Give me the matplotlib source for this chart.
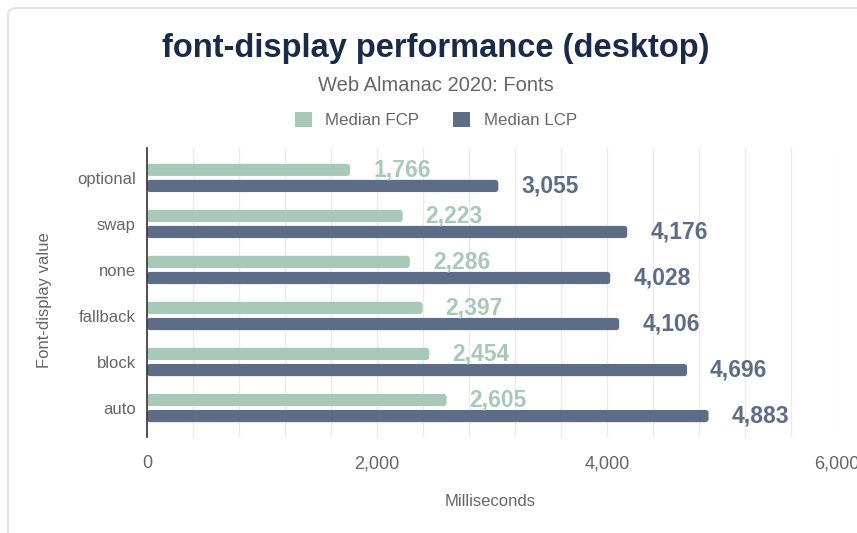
import matplotlib
matplotlib.use("Agg")
import matplotlib.pyplot as plt
from matplotlib.patches import FancyBboxPatch, Patch
import numpy as np

categories = ["optional", "swap", "none", "fallback", "block", "auto"]
fcp = [1766, 2223, 2286, 2397, 2454, 2605]
lcp = [3055, 4176, 4028, 4106, 4696, 4883]
xticks = [0, 2000, 4000, 6000]

FCP_C = "#a8c9b8"
LCP_C = "#5d6d87"
TITLE_C = "#1a2b49"
GRAY = "#666666"

plt.rcParams['font.family'] = ['Liberation Sans', 'DejaVu Sans']

W, H = 857, 533
fig = plt.figure(figsize=(W/100, H/100), dpi=100)

# card border
card = FancyBboxPatch((8/W, -0.05), 1.2, 1 - 8/H + 0.05, transform=fig.transFigure,
                      boxstyle="round,pad=0,rounding_size=0.012", fc="white", ec="#e4e4e4",
                      lw=1.5, zorder=-10)
fig.patches.append(card)

left, right = 147/W, 837/W
top, bottom = 1 - 148/H, 1 - 437/H
ax = fig.add_axes([left, bottom, right - left, top - bottom])

y = np.arange(len(categories))
bh = 0.265
off = 0.175
b1 = ax.barh(y - off, fcp, height=bh, color=FCP_C, zorder=3)
b2 = ax.barh(y + off, lcp, height=bh, color=LCP_C, zorder=3)

ax.set_xlim(0, 6000)
ax.set_ylim(5.63, -0.65)

# rounded bars
xpp = 6000 / 690.0
ypp = 1 / 46.0
for bars, col in ((b1, FCP_C), (b2, LCP_C)):
    for b in bars:
        x0, y0 = b.get_x(), b.get_y()
        w, h = b.get_width(), b.get_height()
        p = FancyBboxPatch((x0, y0), w, h, boxstyle="round,pad=0,rounding_size=%f" % (3 * xpp),
                           mutation_aspect=ypp / xpp, fc=col, ec="none", zorder=3)
        ax.add_patch(p)
        b.set_visible(False)

for i, v in enumerate(fcp):
    ax.text(v + 23 * xpp, i - off, f"{v:,}", color=FCP_C, fontsize=16.5, fontweight="bold",
            va="center", ha="left", zorder=4)
for i, v in enumerate(lcp):
    ax.text(v + 23 * xpp, i + off, f"{v:,}", color=LCP_C, fontsize=16.5, fontweight="bold",
            va="center", ha="left", zorder=4)

ax.set_xticks(xticks)
ax.set_xticklabels([f"{t:,}" for t in xticks], color=GRAY, fontsize=13)
ax.set_xticks(np.arange(0, 6001, 400), minor=True)
ax.grid(True, axis="x", which="both", color="#ebebeb", lw=1, zorder=0)
ax.set_yticks(y)
ax.set_yticklabels(categories, color=GRAY, fontsize=12)
ax.tick_params(axis="both", which="both", length=0)
ax.tick_params(axis="x", pad=13)
ax.tick_params(axis="y", pad=8)
for s in ["top", "right", "bottom"]:
    ax.spines[s].set_visible(False)
ax.spines["left"].set_color("#333333")
ax.spines["left"].set_linewidth(1.2)
ax.spines["left"].set_zorder(5)

fig.text(436/W, 1 - 48/H, "font-display performance (desktop)", ha="center", va="center",
         fontsize=23.5, fontweight="bold", color=TITLE_C)
fig.text(436/W, 1 - 85/H, "Web Almanac 2020: Fonts", ha="center", va="center",
         fontsize=14.5, color=GRAY)

handles = [Patch(facecolor=FCP_C, label="Median FCP"), Patch(facecolor=LCP_C, label="Median LCP")]
fig.legend(handles=handles, loc="center", bbox_to_anchor=(436/W, 1 - 120/H), ncol=2,
           frameon=False, fontsize=12.2, labelcolor=GRAY, handlelength=1.0, handleheight=1.0,
           columnspacing=2.0, handletextpad=0.8)

fig.text(490/W, 1 - 502/H, "Milliseconds", ha="center", va="center", fontsize=12, color=GRAY)
fig.text(45/W, 1 - 300/H, "Font-display value", ha="center", va="center", rotation=90,
         fontsize=12, color=GRAY)

fig.savefig("out.png", dpi=100, facecolor="white")
